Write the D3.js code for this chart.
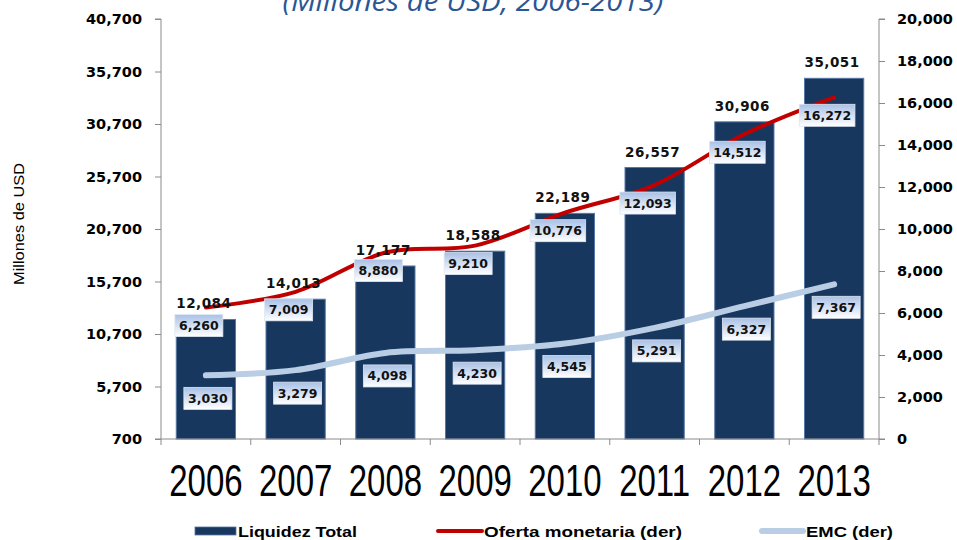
<!DOCTYPE html>
<html>
<head>
<meta charset="utf-8">
<script src="https://cdn.jsdelivr.net/npm/d3@7"></script>
<style>
  html, body { margin: 0; padding: 0; background: #ffffff; }
  svg { display: block; }
</style>
</head>
<body>
<svg id="chart" width="957" height="540"></svg>
<script>
const years = ["2006", "2007", "2008", "2009", "2010", "2011", "2012", "2013"];
const liquidezTotal = [12084, 14013, 17177, 18588, 22189, 26557, 30906, 35051];
const ofertaMonetaria = [6260, 7009, 8880, 9210, 10776, 12093, 14512, 16272];
const emc = [3030, 3279, 4098, 4230, 4545, 5291, 6327, 7367];
const leftTicks = [700, 5700, 10700, 15700, 20700, 25700, 30700, 35700, 40700];
const rightTicks = [0, 2000, 4000, 6000, 8000, 10000, 12000, 14000, 16000, 18000, 20000];
const titleText = "(Millones de USD, 2006-2013)";
const yAxisTitle = "Millones de USD";
const legendNames = ["Liquidez Total", "Oferta monetaria (der)", "EMC (der)"];

const svg = d3.select("#chart");
const pLeft = 161, pRight = 879, pTop = 19, pBottom = 439;

const x = d3.scaleBand().domain(years).range([pLeft, pRight]).paddingInner(0.34).paddingOuter(0.17);
const yL = d3.scaleLinear().domain([700, 40700]).range([pBottom, pTop]);
const yR = d3.scaleLinear().domain([0, 20000]).range([pBottom, pTop]);
const fmt = d3.format(",");
const cx = d => x(d) + x.bandwidth() / 2;

// gradient for label boxes
const defs = svg.append("defs");
const g1 = defs.append("linearGradient").attr("id", "boxGrad").attr("x1", 0).attr("y1", 0).attr("x2", 0).attr("y2", 1);
g1.append("stop").attr("offset", "0%").attr("stop-color", "#a9c1e6");
g1.append("stop").attr("offset", "100%").attr("stop-color", "#ffffff");

// title (cut off at top)
svg.append("text")
  .attr("x", 473).attr("y", 11)
  .attr("text-anchor", "middle")
  .attr("font-family", "Open Sans, Liberation Sans, sans-serif")
  .attr("font-style", "italic")
  .attr("font-size", 28)
  .attr("fill", "#2a5696")
  .attr("textLength", 381).attr("lengthAdjust", "spacingAndGlyphs")
  .text(titleText);

// y axis title
svg.append("text")
  .attr("transform", "translate(24,224) rotate(-90)")
  .attr("text-anchor", "middle")
  .attr("font-family", "Liberation Sans, Arial, sans-serif")
  .attr("font-size", 15)
  .attr("fill", "#000")
  .attr("textLength", 122).attr("lengthAdjust", "spacingAndGlyphs")
  .text(yAxisTitle);

// bars
svg.append("g").selectAll("rect").data(years).join("rect")
  .attr("x", d => x(d))
  .attr("y", (d, i) => yL(liquidezTotal[i]))
  .attr("width", x.bandwidth())
  .attr("height", (d, i) => pBottom - yL(liquidezTotal[i]))
  .attr("fill", "#18375e")
  .attr("stroke", "#5577a6")
  .attr("stroke-width", 1);

// axes
const axisColor = "#8a8a8a";
const leftAxis = svg.append("g").attr("transform", `translate(${pLeft},0)`)
  .call(d3.axisLeft(yL).tickValues(leftTicks).tickFormat(fmt).tickSize(6).tickPadding(13));
const rightAxis = svg.append("g").attr("transform", `translate(${pRight},0)`)
  .call(d3.axisRight(yR).tickValues(rightTicks).tickFormat(fmt).tickSize(6).tickPadding(12));
[leftAxis, rightAxis].forEach(a => {
  a.select(".domain").attr("stroke", axisColor).attr("d", a === leftAxis ? `M-6,${pTop}H0V${pBottom}H-6` : `M6,${pTop}H0V${pBottom}H6`);
  a.selectAll(".tick line").attr("stroke", axisColor);
  a.selectAll(".tick text")
    .attr("font-family", "DejaVu Sans, Verdana, sans-serif")
    .attr("font-weight", "bold")
    .attr("font-size", 14.5)
    .attr("fill", "#000");
});

// bottom axis: line + ticks at band boundaries
const bAxis = svg.append("g");
bAxis.append("line").attr("x1", pLeft).attr("x2", pRight).attr("y1", pBottom).attr("y2", pBottom).attr("stroke", axisColor);
const boundaries = years.map(d => x(d) - x.step() * x.paddingInner() / 2).concat([pRight]);
bAxis.selectAll("line.tk").data(boundaries).join("line").attr("class", "tk")
  .attr("x1", d => d).attr("x2", d => d).attr("y1", pBottom).attr("y2", pBottom + 6).attr("stroke", axisColor);

// year labels
svg.append("g").selectAll("text").data(years).join("text")
  .attr("transform", d => `translate(${cx(d)},496) scale(0.75,1)`)
  .attr("text-anchor", "middle")
  .attr("font-family", "Liberation Sans, Arial, sans-serif")
  .attr("font-size", 44)
  .attr("fill", "#000")
  .text(d => d);

// lines
const lineGen = (vals) => d3.line()
  .x((d, i) => cx(years[i]))
  .y(d => yR(d))
  .curve(d3.curveCardinal.tension(0))(vals);

svg.append("path").attr("d", lineGen(emc))
  .attr("fill", "none").attr("stroke", "#b9cde5").attr("stroke-width", 6).attr("stroke-linecap", "round");
svg.append("path").attr("d", lineGen(ofertaMonetaria))
  .attr("fill", "none").attr("stroke", "#c00000").attr("stroke-width", 4).attr("stroke-linecap", "round");

// Liquidez labels
svg.append("g").selectAll("text").data(years).join("text")
  .attr("x", d => cx(d) - 2)
  .attr("y", (d, i) => yL(liquidezTotal[i]) - 11)
  .attr("text-anchor", "middle")
  .attr("font-family", "DejaVu Sans, Verdana, sans-serif")
  .attr("font-weight", "bold")
  .attr("font-size", 13.5)
  .attr("letter-spacing", 0.5)
  .attr("fill", "#111")
  .text((d, i) => fmt(liquidezTotal[i]));

// boxed labels
function boxedLabels(vals, dx, dy) {
  const g = svg.append("g");
  vals.forEach((v, i) => {
    const px = cx(years[i]) + dx, py = yR(v) + dy;
    const t = fmt(v);
    const w = t.length * 7.6 + 10, h = 22;
    g.append("rect").attr("x", px - w / 2).attr("y", py - h / 2).attr("width", w).attr("height", h)
      .attr("fill", "url(#boxGrad)").attr("stroke", "#dfe7f3").attr("stroke-width", 0.8);
    g.append("text").attr("x", px).attr("y", py + 4.5)
      .attr("text-anchor", "middle")
      .attr("font-family", "DejaVu Sans, Verdana, sans-serif")
      .attr("font-weight", "bold")
      .attr("font-size", 12.5)
      .attr("fill", "#111")
      .text(t);
  });
}
boxedLabels(ofertaMonetaria, -7, 18);
boxedLabels(emc, 2, 23);

// legend
const lg = svg.append("g").attr("font-family", "Liberation Sans, Arial, sans-serif").attr("font-weight", "bold").attr("font-size", 15).attr("fill", "#000");
lg.append("rect").attr("x", 195).attr("y", 527).attr("width", 41).attr("height", 8).attr("fill", "#18375e").attr("stroke", "#5577a6").attr("stroke-width", 0.8);
lg.append("text").attr("x", 238).attr("y", 537).attr("textLength", 119).attr("lengthAdjust", "spacingAndGlyphs").text(legendNames[0]);
lg.append("line").attr("x1", 438).attr("x2", 482).attr("y1", 531).attr("y2", 531).attr("stroke", "#c00000").attr("stroke-width", 4).attr("stroke-linecap", "round");
lg.append("text").attr("x", 484).attr("y", 537).attr("textLength", 198).attr("lengthAdjust", "spacingAndGlyphs").text(legendNames[1]);
lg.append("line").attr("x1", 762).attr("x2", 803).attr("y1", 531).attr("y2", 531).attr("stroke", "#b9cde5").attr("stroke-width", 6).attr("stroke-linecap", "round");
lg.append("text").attr("x", 806).attr("y", 537).attr("textLength", 87).attr("lengthAdjust", "spacingAndGlyphs").text(legendNames[2]);
</script>
</body>
</html>
